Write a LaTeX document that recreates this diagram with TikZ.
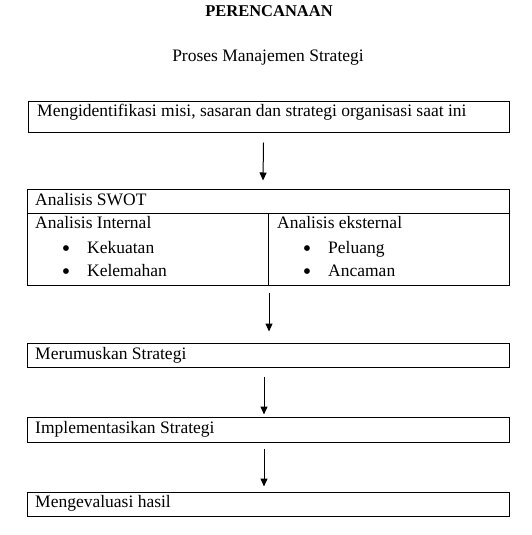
\documentclass[tikz,border=0pt]{standalone}
\usepackage{fontspec}
\setmainfont{Liberation Serif}
\usetikzlibrary{arrows.meta}

\begin{document}
\begin{tikzpicture}[x=1pt, y=-1pt,
  kotak/.style={draw, line width=1pt, minimum width=482pt, inner sep=0pt},
  teks/.style={anchor=base west, inner sep=0pt, font=\fontsize{17.5}{20}\selectfont},
  panah/.style={-{Triangle[width=7pt,length=8pt]}, line width=1pt}]

\useasboundingbox (0,0) rectangle (531,535);

% Judul
\node[teks, anchor=base, font=\fontsize{16.5}{19}\selectfont\bfseries] (judul) at (269,17) {PERENCANAAN};
\node[teks, anchor=base] (subjudul) at (268,62) {Proses Manajemen Strategi};

% Kotak
\node[kotak, minimum width=481pt, minimum height=31pt] (misi) at (268.5,116.5) {};
\node[kotak, minimum height=96pt] (swot) at (268,237) {};
\node[kotak, minimum height=24pt] (rumus) at (268,355) {};
\node[kotak, minimum height=25pt] (impl) at (268,429.5) {};
\node[kotak, minimum height=24pt] (eval) at (268,504) {};

% Garis dalam kotak SWOT
\coordinate (h1) at (27,213);
\coordinate (h2) at (509,213);
\coordinate (v1) at (268.5,213);
\draw[line width=1pt] (h1) -- (h2);
\draw[line width=1pt] (v1) -- (v1 |- swot.south);

% Panah
\draw[panah] ([xshift=-5pt,yshift=-10pt]misi.south) -- ([xshift=-5pt,yshift=8pt]swot.north);
\draw[panah] ([xshift=1pt,yshift=-7pt]swot.south) -- ([xshift=1pt,yshift=11pt]rumus.north);
\draw[panah] ([xshift=-4pt,yshift=-9pt]rumus.south) -- ([xshift=-4pt,yshift=2pt]impl.north);
\draw[panah] ([xshift=-4pt,yshift=-6pt]impl.south) -- ([xshift=-4pt,yshift=5pt]eval.north);

% Teks
\node[teks] (tmisi) at (37,116) {Mengidentifikasi misi, sasaran dan strategi organisasi saat ini};
\node[teks] (tswot) at (35,205) {Analisis SWOT};
\node[teks] (tint) at (35,228.5) {Analisis Internal};
\node[teks] (teks1) at (277,228.5) {Analisis eksternal};
\node[teks] (kuat) at (87,253) {Kekuatan};
\node[teks] (lemah) at (87,276.7) {Kelemahan};
\node[teks] (luang) at (328,253) {Peluang};
\node[teks] (ancam) at (328,276.7) {Ancaman};
\foreach \bx/\by [count=\i] in {66/256.3, 66/279, 307/256.3, 307/279}
  \node[teks, anchor=base, font=\fontsize{24}{24}\selectfont] (bul\i) at (\bx,\by) {\textbullet};
\node[teks] (trumus) at (35,359.3) {Merumuskan Strategi};
\node[teks] (timpl) at (35,433.3) {Implementasikan Strategi};
\node[teks] (teval) at (35,507.7) {Mengevaluasi hasil};
\end{tikzpicture}
\end{document}
